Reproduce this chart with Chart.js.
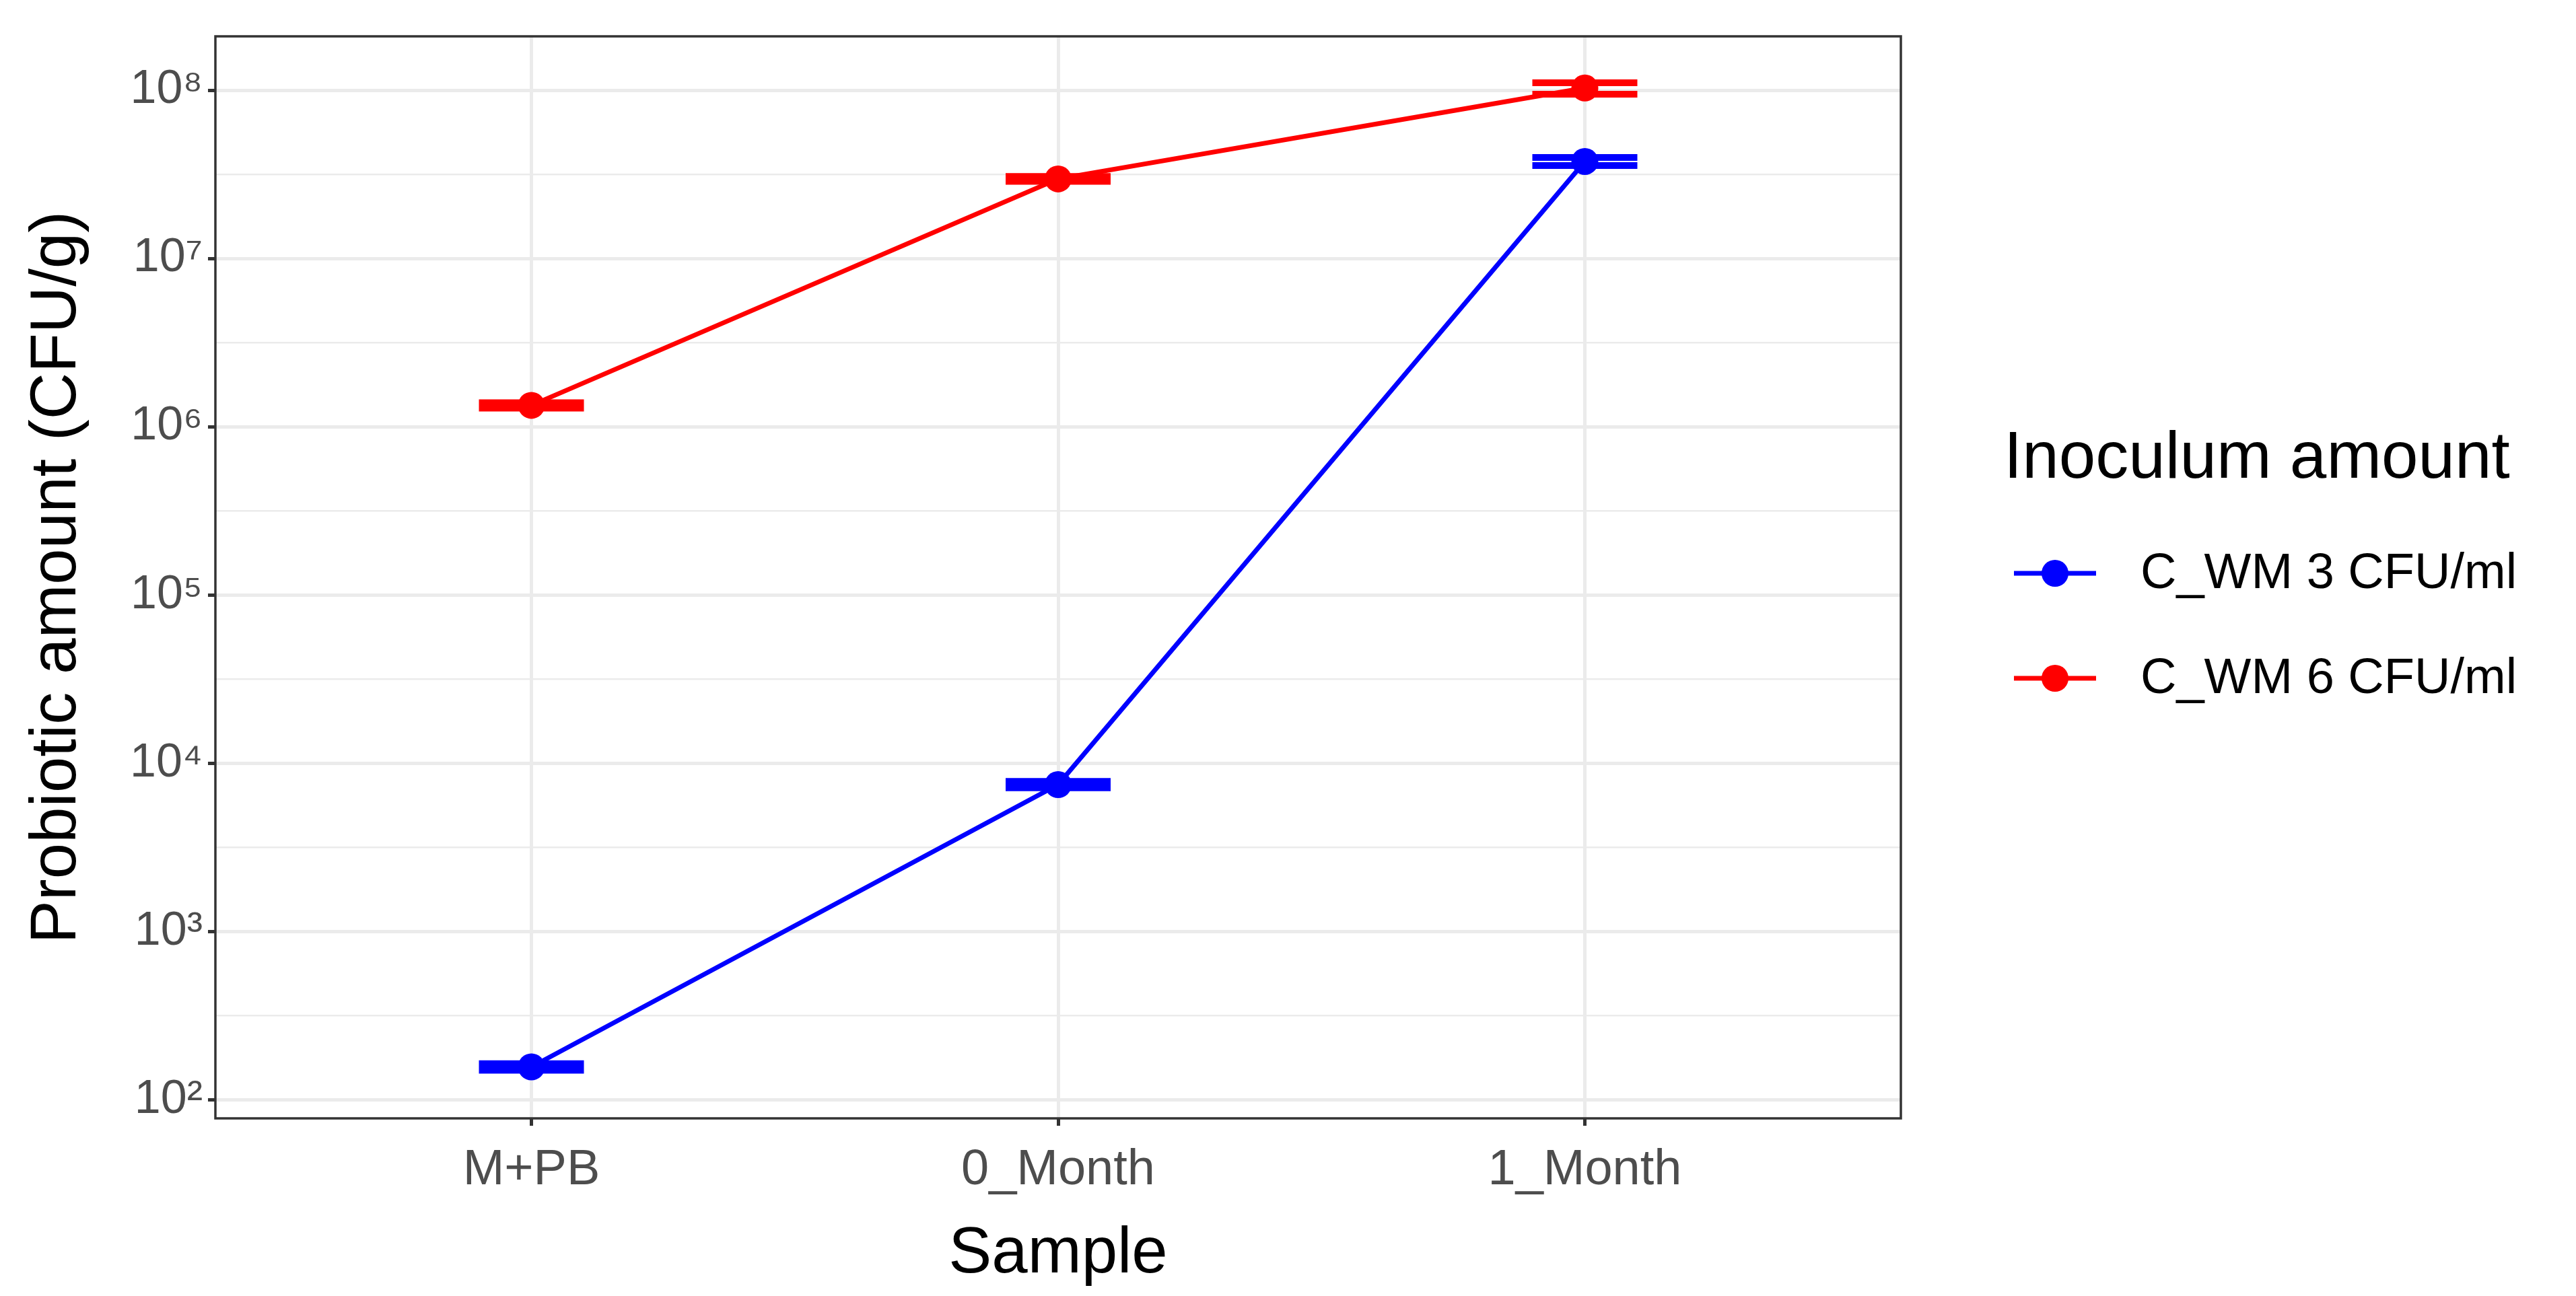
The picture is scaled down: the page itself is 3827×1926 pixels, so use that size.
<!DOCTYPE html>
<html><head><meta charset="utf-8">
<script src="https://cdn.jsdelivr.net/npm/chart.js@4/dist/chart.umd.min.js"></script>
<style>html,body{margin:0;padding:0;background:#fff}canvas{display:block}</style>
</head><body>
<div style="width:3827px;height:1926px"><canvas id="c"></canvas></div>
<script>
const categories = ["M+PB", "0_Month", "1_Month"];
const seriesNames = ["C_WM 3 CFU/ml", "C_WM 6 CFU/ml"];
const seriesColors = ["#0000FF", "#FF0000"];
const blueMean = [157, 7470, 3.77e7];
const blueLow  = [150, 7150, 3.57e7];
const blueHigh = [164, 7800, 3.98e7];
const redMean  = [1.34e6, 2.97e7, 1.03e8];
const redLow   = [1.29e6, 2.87e7, 0.946e8];
const redHigh  = [1.39e6, 3.07e7, 1.107e8];
const yMajorExp = [2, 3, 4, 5, 6, 7, 8];
const sup = {"0":"⁰","1":"¹","2":"²","3":"³","4":"⁴","5":"⁵","6":"⁶","7":"⁷","8":"⁸","9":"⁹"};

const means = [blueMean, redMean], lows = [blueLow, redLow], highs = [blueHigh, redHigh];
const datasets = seriesNames.map((n, s) => ({
  label: n,
  data: means[s].map((v, i) => ({x: i, y: v})),
  borderColor: seriesColors[s], backgroundColor: seriesColors[s],
  borderWidth: 7, pointRadius: 20, pointHoverRadius: 20, pointBorderWidth: 0,
  tension: 0, order: 1
}));

const errPlugin = {
  id: 'err',
  beforeDatasetsDraw(chart) {
    const ctx = chart.ctx, xs = chart.scales.x, ys = chart.scales.y;
    ctx.save();
    ctx.lineWidth = 10;
    for (let s = 0; s < 2; s++) {
      ctx.strokeStyle = seriesColors[s];
      for (let i = 0; i < categories.length; i++) {
        const x = xs.getPixelForValue(i), hw = 78;
        const yl = ys.getPixelForValue(lows[s][i]), yh = ys.getPixelForValue(highs[s][i]);
        ctx.beginPath();
        ctx.moveTo(x - hw, yl); ctx.lineTo(x + hw, yl);
        ctx.moveTo(x - hw, yh); ctx.lineTo(x + hw, yh);
        ctx.moveTo(x, yl); ctx.lineTo(x, yh);
        ctx.stroke();
      }
    }
    ctx.restore();
  },
  afterDraw(chart) {
    const ctx = chart.ctx, a = chart.chartArea;
    ctx.save();
    ctx.strokeStyle = '#333333'; ctx.lineWidth = 3.5;
    ctx.strokeRect(a.left, a.top, a.right - a.left, a.bottom - a.top);
    ctx.fillStyle = '#000';
    ctx.textBaseline = 'middle';
    ctx.font = '98px Arial, "Liberation Sans"';
    ctx.fillText('Inoculum amount', 2977, 683);
    ctx.font = '74px Arial, "Liberation Sans"';
    const ys = [852, 1008];
    for (let s = 0; s < 2; s++) {
      ctx.strokeStyle = seriesColors[s]; ctx.fillStyle = seriesColors[s]; ctx.lineWidth = 7;
      ctx.beginPath(); ctx.moveTo(2992, ys[s]); ctx.lineTo(3114, ys[s]); ctx.stroke();
      ctx.beginPath(); ctx.arc(3053, ys[s], 20, 0, Math.PI * 2); ctx.fill();
      ctx.fillStyle = '#000';
      ctx.fillText(seriesNames[s], 3180, ys[s] + 2);
    }
    ctx.restore();
  }
};

Chart.defaults.font.family = 'Arial, "Liberation Sans", sans-serif';
new Chart(document.getElementById('c'), {
  type: 'line',
  data: {datasets},
  options: {
    responsive: true, maintainAspectRatio: false, animation: false,
    devicePixelRatio: 1,
    layout: {padding: {top: 54, right: 1003, left: 0, bottom: 0}},
    plugins: {legend: {display: false}, tooltip: {enabled: false}},
    scales: {
      x: {
        type: 'linear', min: -0.6, max: 2.6,
        afterBuildTicks(sc) { sc.ticks = categories.map((c, i) => ({value: i})); },
        afterFit(sc) { sc.height = 264; },
        ticks: {callback: v => categories[v] ?? '', color: '#4D4D4D', font: {size: 74}, padding: 22},
        grid: {color: '#EBEBEB', lineWidth: 5, tickColor: '#333333', tickLength: 11, drawTicks: true},
        border: {display: false},
        title: {display: true, text: 'Sample', color: '#000', font: {size: 96}, padding: {top: 4}}
      },
      y: {
        type: 'logarithmic', min: Math.pow(10, 1.89), max: Math.pow(10, 8.32),
        afterBuildTicks(sc) {
          const t = [];
          yMajorExp.forEach(e => { t.push({value: Math.pow(10, e), major: true}); if (e < 8) t.push({value: Math.pow(10, e + 0.5), major: false}); });
          sc.ticks = t;
        },
        afterFit(sc) { sc.width = 320; },
        ticks: {
          autoSkip: false, color: '#4D4D4D', font: {size: 70}, padding: 8,
          callback(v) { const e = Math.log10(v); if (Math.abs(e - Math.round(e)) > 1e-6) return ''; return '10' + String(Math.round(e)).split('').map(d => sup[d]).join(''); }
        },
        grid: {
          color: '#EBEBEB',
          lineWidth: c => (c.tick && c.tick.major) ? 5 : 2.5,
          tickColor: c => (c.tick && c.tick.major) ? '#333333' : 'rgba(0,0,0,0)',
          tickLength: 11
        },
        border: {display: false},
        title: {display: true, text: 'Probiotic amount (CFU/g)', color: '#000', font: {size: 96}, padding: {top: 28, bottom: 0}}
      }
    }
  },
  plugins: [errPlugin]
});
</script>
</body></html>
